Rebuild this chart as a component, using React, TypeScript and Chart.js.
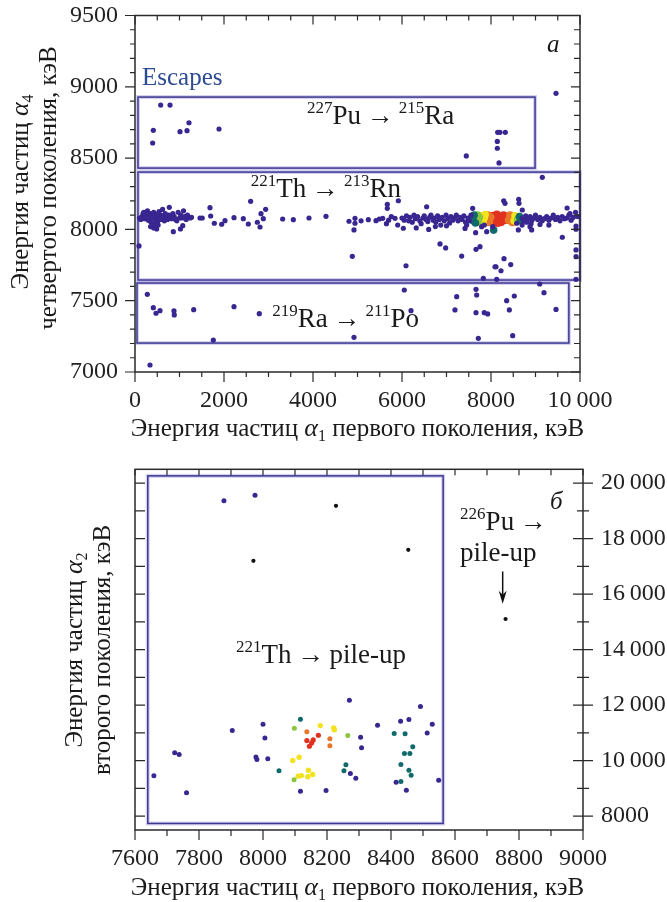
import React, { useEffect, useRef } from 'react';
import { Chart, registerables } from 'chart.js';
Chart.register(...registerables);

const FONT = '"Liberation Serif", "DejaVu Serif", serif';

// ---------- Panel a (top) ----------
const topXTicks = [0, 2000, 4000, 6000, 8000, 10000];
const topYTicks = [7000, 7500, 8000, 8500, 9000, 9500];

const topEscapes: [number, number][] = [
  [577, 8872], [787, 8872], [412, 8695], [397, 8606], [1011, 8685], [1169, 8692], [1213, 8748], [1888, 8704],
  [7445, 8515], [8150, 8681], [8202, 8681], [8322, 8681], [8142, 8617], [8142, 8569], [8180, 8466], [9461, 8954],
];

const topThLeft: [number, number][] = [
  [100, 8080], [130, 8070], [160, 8090], [180, 8110], [200, 8120], [220, 8075], [240, 8100], [260, 8085],
  [280, 8130], [300, 8065], [320, 8095], [340, 8110], [360, 8050], [380, 8080], [400, 8100], [420, 8120],
  [440, 8040], [460, 8070], [480, 8090], [500, 8105], [520, 8060], [540, 8125], [560, 8080], [580, 8100],
  [600, 8070], [620, 8140], [640, 8090], [660, 8060], [680, 8110], [700, 8080], [730, 8070], [760, 8100],
  [790, 8085], [820, 8075], [850, 8110], [880, 8090], [910, 8070], [940, 8060], [970, 8120], [1000, 8080],
  [1030, 8100], [1060, 8080], [1090, 8130], [1120, 8090], [1150, 8070], [1180, 8100], [1210, 8085],
  [1240, 8080], [1270, 8085], [350, 8020], [420, 8010], [520, 8030], [487, 8003],
];

const topThMid: [number, number][] = [
  [90, 7884], [861, 7984], [1021, 8003], [1073, 8026], [771, 8155], [1685, 8152], [1701, 8094], [1461, 8080],
  [1511, 8080], [1783, 8043], [1948, 8036], [2022, 8061], [2225, 8082], [2434, 8075], [2547, 8038], [2599, 8197],
  [2749, 8050], [2809, 8017], [2832, 8110], [2884, 8075], [2936, 8141], [3318, 8073], [3558, 8068], [3910, 8080],
  [4292, 8092], [4809, 8057], [4944, 8078], [4944, 8043], [4921, 7996], [4884, 7811], [5243, 8068], [5416, 8061],
  [5490, 8073], [5566, 8078], [5670, 8176], [5670, 8148], [5918, 8201], [5843, 8078], [5903, 8031], [6030, 8008],
  [6090, 7745], [6554, 8159], [6854, 7898], [6981, 7870], [7341, 7813], [7663, 7860], [7753, 7879], [7588, 8148],
  [7790, 8019], [8090, 7738], [7828, 7657], [8128, 7650], [8112, 7738], [8225, 7710], [8292, 7795], [8443, 7753],
  [8285, 8201], [8315, 8183], [8622, 8211], [8629, 8183], [8703, 8136], [9153, 8365], [9603, 7945], [9910, 8024],
  [9910, 8001], [9910, 7856], [9910, 7809], [9910, 7650], [9710, 8150], [9775, 8110], [8876, 8019], [8914, 7996],
  [8577, 8043], [8614, 7996], [8038, 8019], [7850, 8031], [7903, 7984], [7655, 7977], [7416, 8007], [7453, 8031],
  [5080, 8060], [5700, 8065], [5760, 8090], [5650, 8040],
];

const topThDense: [number, number][] = [
  [6000, 8080], [6050, 8065], [6100, 8095], [6150, 8060], [6180, 8085], [6230, 8050], [6270, 8100], [6300, 8075],
  [6350, 8090], [6400, 8060], [6430, 8040], [6470, 8080], [6500, 8095], [6540, 8070], [6580, 8055], [6620, 8085],
  [6650, 8100], [6700, 8065], [6730, 8080], [6760, 8050], [6800, 8095], [6840, 8070], [6870, 8030], [6900, 8085],
  [6950, 8060], [6990, 8100], [7030, 8075], [7070, 8045], [7100, 8090], [7140, 8065], [7180, 8080], [7220, 8100],
  [7260, 8060], [7300, 8085], [7350, 8070], [7390, 8095], [7430, 8050], [7480, 8080], [7520, 8060], [7550, 8100],
  [6320, 8010], [6600, 8000], [6750, 8020], [7000, 8025],
  [8700, 8080], [8740, 8060], [8780, 8095], [8720, 8070], [8760, 8085], [8800, 8050], [8840, 8075], [8880, 8090],
  [8920, 8065], [8960, 8080], [9000, 8100], [9050, 8070], [9100, 8085], [9150, 8060], [9200, 8075], [9250, 8090],
  [9300, 8065], [9350, 8080], [9400, 8100], [9450, 8070], [9500, 8085], [9550, 8060], [9600, 8090], [9650, 8075],
  [9700, 8080], [9750, 8100], [9800, 8065], [9850, 8085], [9900, 8120], [9950, 8090], [8700, 8030], [8900, 8040],
  [9100, 8035], [9300, 8030],
];

const topRa: [number, number][] = [
  [277, 7545], [412, 7451], [472, 7412], [562, 7430], [876, 7428], [883, 7400], [1319, 7437], [2225, 7458],
  [2793, 7409], [1760, 7224], [337, 7049], [4921, 7243], [6052, 7575], [6202, 7430], [7229, 7528], [7191, 7435],
  [7663, 7580], [7678, 7540], [7663, 7416], [7849, 7416], [7925, 7407], [7715, 7236], [8352, 7500], [8412, 7435],
  [8524, 7533], [8487, 7255], [9094, 7617], [9191, 7556], [9461, 7439],
];

const topHotTeal: [number, number][] = [
  [7580, 8080], [7600, 8060], [7620, 8100], [7650, 8045], [8640, 8090], [8660, 8060], [8060, 7995],
];
const topHotGreen: [number, number][] = [[7680, 8075], [7700, 8100], [7720, 8050], [7740, 8085], [8600, 8070]];
const topHotYellow: [number, number][] = [
  [7760, 8065], [7790, 8095], [7820, 8050], [7850, 8080], [7870, 8105], [8520, 8060], [8540, 8095], [8560, 8075],
];
const topHotOrange: [number, number][] = [
  [7900, 8070], [7930, 8100], [7960, 8050], [7990, 8085], [8400, 8065], [8430, 8100], [8460, 8080], [8480, 8050],
];
const topHotRed: [number, number][] = [
  [8000, 8070], [8040, 8095], [8070, 8055], [8100, 8085], [8130, 8105], [8160, 8065], [8190, 8090], [8220, 8050],
  [8250, 8080], [8280, 8100], [8310, 8065], [8340, 8090], [8370, 8075], [8060, 8080], [8200, 8075], [8150, 8045],
];

// boxes in data units (x0, x1, y0, y1)
const topBoxes = [
  { x0: 67, x1: 8990, y0: 8430, y1: 8928 },
  { x0: 67, x1: 10000, y0: 7645, y1: 8402 },
  { x0: 45, x1: 9750, y0: 7203, y1: 7624 },
];

// ---------- Panel б (bottom) ----------
const botXTicks = [7600, 7800, 8000, 8200, 8400, 8600, 8800, 9000];
const botYTicks = [8000, 10000, 12000, 14000, 16000, 18000, 20000];

const botPurple: [number, number][] = [
  [7878, 19363], [7975, 19568], [7904, 11083], [8000, 11311], [8006, 10820], [7724, 10280], [7738, 10220],
  [7978, 10130], [7981, 10040], [8015, 10065], [7659, 9453], [7761, 8841], [8117, 8898], [8197, 8924],
  [8270, 12174], [8305, 10843], [8308, 10460], [8358, 11275], [8273, 9535], [8290, 9367], [8492, 11947],
  [8430, 11418], [8456, 11479], [8529, 11310], [8513, 11000], [8416, 9222], [8448, 8935], [8549, 9295],
];
const botTeal: [number, number][] = [
  [8050, 9632], [8117, 11490], [8259, 9850], [8253, 9632], [8410, 10975], [8444, 10965], [8468, 10497],
  [8442, 10256], [8459, 10256], [8431, 9860], [8456, 9654], [8463, 9475], [8431, 9247],
];
const botGreen: [number, number][] = [[8098, 11166], [8097, 9309], [8265, 10904]];
const botYellow: [number, number][] = [
  [8179, 11263], [8221, 11181], [8223, 11110], [8093, 10003], [8113, 10122], [8110, 9440], [8120, 9460],
  [8142, 9654], [8140, 9417], [8155, 9500],
];
const botOrange: [number, number][] = [[8137, 11037], [8209, 10785], [8209, 10533]];
const botRed: [number, number][] = [[8173, 10914], [8137, 10724], [8157, 10748], [8152, 10640], [8145, 10518]];
const botBlack: [number, number][] = [[8228, 19183], [7970, 17203], [8454, 17599], [8758, 15104]];

const botBoxes = [{ x0: 7640, x1: 8563, y0: 7736, y1: 20263 }];

// ---------- helpers ----------
const C_PURPLE = '#3a2690';
const C_TEAL = '#0f6a6b';
const C_GREEN = '#8cc63f';
const C_YELLOW = '#f3e21f';
const C_ORANGE = '#e8772a';
const C_RED = '#e0321f';
const C_BLACK = '#111111';
const C_BOX = '#3b3791';

const range = (a: number, b: number, s: number) => {
  const r: number[] = [];
  for (let v = a; v <= b + 1e-9; v += s) r.push(v);
  return r;
};

const fmt = (v: number) =>
  v >= 10000 ? `${Math.floor(v / 1000)}\u2009${String(v % 1000).padStart(3, '0')}` : String(v);

type Seg = { t: string; size: number; italic?: boolean; dy?: number };

function drawRich(ctx: CanvasRenderingContext2D, segs: Seg[], x: number, y: number, align: 'left' | 'center', color: string) {
  const fonts = segs.map((s) => `${s.italic ? 'italic ' : ''}${s.size}px ${FONT}`);
  const widths = segs.map((s, i) => {
    ctx.font = fonts[i];
    return ctx.measureText(s.t).width;
  });
  const total = widths.reduce((a, b) => a + b, 0);
  let cx = align === 'center' ? x - total / 2 : x;
  ctx.fillStyle = color;
  ctx.textAlign = 'left';
  ctx.textBaseline = 'alphabetic';
  segs.forEach((s, i) => {
    ctx.font = fonts[i];
    ctx.fillText(s.t, cx, y + (s.dy || 0));
    cx += widths[i];
  });
}

const ARW = '\u2009\u2192\u2009';
const BIG = 27;
const SMALL = 17;
const nuc = (a: string, el: string, b: string, el2: string): Seg[] => [
  { t: a, size: SMALL, dy: -11 },
  { t: el, size: BIG },
  { t: ARW, size: BIG },
  { t: b, size: SMALL, dy: -11 },
  { t: el2, size: BIG },
];

type TickSpec = { side: 'top' | 'bottom' | 'left' | 'right'; values: number[]; len: number; mode: 'in' | 'out' | 'both' };
type TextSpec = { x: number; y: number; segs: Seg[]; color?: string };
type TitleSpec = { x: number; y: number; segs: Seg[]; rotate?: boolean };
type Box = { x0: number; x1: number; y0: number; y1: number };

function makeDecor(cfg: {
  boxes: Box[];
  ticks: TickSpec[];
  texts: TextSpec[];
  titles: TitleSpec[];
  arrow?: { x: number; y0: number; y1: number };
}) {
  return {
    id: 'decor',
    beforeDatasetsDraw(chart: any) {
      const { ctx, scales } = chart;
      const xs = scales.x, ys = scales.y;
      ctx.save();
      cfg.boxes.forEach((b) => {
        const x0 = xs.getPixelForValue(b.x0), x1 = xs.getPixelForValue(b.x1);
        const y0 = ys.getPixelForValue(b.y1), y1 = ys.getPixelForValue(b.y0);
        ctx.strokeStyle = 'rgba(150,140,215,0.4)';
        ctx.lineWidth = 4;
        ctx.strokeRect(x0, y0, x1 - x0, y1 - y0);
        ctx.strokeStyle = C_BOX;
        ctx.lineWidth = 1.5;
        ctx.strokeRect(x0, y0, x1 - x0, y1 - y0);
      });
      ctx.restore();
    },
    afterDraw(chart: any) {
      const { ctx, scales, chartArea: a } = chart;
      const xs = scales.x, ys = scales.y;
      ctx.save();
      ctx.strokeStyle = '#2a2a2a';
      ctx.lineWidth = 1.5;
      ctx.strokeRect(a.left, a.top, a.right - a.left, a.bottom - a.top);
      ctx.lineWidth = 1.2;
      ctx.beginPath();
      cfg.ticks.forEach((t) => {
        t.values.forEach((v) => {
          if (t.side === 'bottom' || t.side === 'top') {
            const px = xs.getPixelForValue(v);
            const base = t.side === 'bottom' ? a.bottom : a.top;
            const outDir = t.side === 'bottom' ? 1 : -1;
            const s = t.mode === 'out' ? 0 : -outDir * t.len;
            const e = t.mode === 'in' ? 0 : outDir * t.len;
            ctx.moveTo(px, base + s);
            ctx.lineTo(px, base + e);
          } else {
            const py = ys.getPixelForValue(v);
            const base = t.side === 'left' ? a.left : a.right;
            const outDir = t.side === 'left' ? -1 : 1;
            const s = t.mode === 'out' ? 0 : -outDir * t.len;
            const e = t.mode === 'in' ? 0 : outDir * t.len;
            ctx.moveTo(base + s, py);
            ctx.lineTo(base + e, py);
          }
        });
      });
      ctx.stroke();
      cfg.texts.forEach((t) => {
        drawRich(ctx, t.segs, xs.getPixelForValue(t.x), ys.getPixelForValue(t.y), 'left', t.color || '#1a1a1a');
      });
      cfg.titles.forEach((t) => {
        ctx.save();
        ctx.translate(t.x, t.y);
        if (t.rotate) ctx.rotate(-Math.PI / 2);
        drawRich(ctx, t.segs, 0, 0, 'center', '#1a1a1a');
        ctx.restore();
      });
      if (cfg.arrow) {
        const ax = xs.getPixelForValue(cfg.arrow.x);
        const ay0 = ys.getPixelForValue(cfg.arrow.y0);
        const ay1 = ys.getPixelForValue(cfg.arrow.y1);
        ctx.strokeStyle = '#111';
        ctx.fillStyle = '#111';
        ctx.lineWidth = 1.5;
        ctx.beginPath();
        ctx.moveTo(ax, ay0);
        ctx.lineTo(ax, ay1 - 8);
        ctx.stroke();
        ctx.beginPath();
        ctx.moveTo(ax, ay1);
        ctx.lineTo(ax - 4, ay1 - 13);
        ctx.lineTo(ax, ay1 - 9);
        ctx.lineTo(ax + 4, ay1 - 13);
        ctx.closePath();
        ctx.fill();
      }
      ctx.restore();
    },
  };
}

const ds = (pts: [number, number][], color: string, r: number) => ({
  data: pts.map(([x, y]) => ({ x, y })),
  backgroundColor: color,
  borderColor: color,
  borderWidth: 0,
  pointRadius: r,
  pointHoverRadius: r,
});

const tickFont = { family: FONT, size: 24 };
const TS = 25; // title font size

const xTitle = (n: string): Seg[] => [
  { t: 'Энергия частиц ', size: TS },
  { t: 'α', size: TS + 1, italic: true },
  { t: n, size: 16, dy: 5 },
  { t: ' первого поколения, кэВ', size: TS },
];

const noPad = (s: any) => {
  s.paddingTop = 0;
  s.paddingBottom = 0;
  s.paddingLeft = 0;
  s.paddingRight = 0;
};

const axisBase = {
  type: 'linear',
  grid: { display: false, drawTicks: false },
  border: { display: false },
};

function topConfig(): any {
  return {
    type: 'scatter',
    data: {
      datasets: [
        ds(topEscapes, C_PURPLE, 2.6),
        ds(topThLeft, C_PURPLE, 2.6),
        ds(topThMid, C_PURPLE, 2.6),
        ds(topThDense, C_PURPLE, 2.6),
        ds(topRa, C_PURPLE, 2.6),
        ds(topHotTeal, C_TEAL, 3.8),
        ds(topHotGreen, C_GREEN, 3.8),
        ds(topHotYellow, C_YELLOW, 3.8),
        ds(topHotOrange, C_ORANGE, 4),
        ds(topHotRed, C_RED, 4),
      ],
    },
    options: {
      responsive: false,
      animation: false,
      events: [],
      layout: { autoPadding: false, padding: { left: 0, right: 87, top: 15.5, bottom: 0 } },
      plugins: { legend: { display: false }, tooltip: { enabled: false } },
      scales: {
        x: {
          ...axisBase,
          position: 'bottom',
          min: 0,
          max: 10000,
          ticks: { font: tickFont, color: '#222', padding: 14, maxRotation: 0, autoSkip: false, callback: (v: number) => fmt(v) },
          afterBuildTicks: (s: any) => { s.ticks = topXTicks.map((v) => ({ value: v })); },
          afterFit: (s: any) => { s.height = 78; noPad(s); },
        },
        y: {
          ...axisBase,
          position: 'left',
          min: 7000,
          max: 9500,
          ticks: { font: tickFont, color: '#222', padding: 17, callback: (v: number) => fmt(v) },
          afterBuildTicks: (s: any) => { s.ticks = topYTicks.map((v) => ({ value: v })); },
          afterFit: (s: any) => { s.width = 135; noPad(s); },
        },
      },
    },
    plugins: [
      makeDecor({
        boxes: topBoxes,
        ticks: [
          { side: 'bottom', values: range(0, 10000, 500), len: 5, mode: 'out' },
          { side: 'bottom', values: topXTicks, len: 10, mode: 'out' },
          { side: 'top', values: range(0, 10000, 500), len: 5, mode: 'in' },
          { side: 'top', values: topXTicks, len: 9, mode: 'in' },
          { side: 'left', values: range(7000, 9500, 100), len: 5, mode: 'out' },
          { side: 'left', values: topYTicks, len: 10, mode: 'out' },
          { side: 'right', values: range(7000, 9500, 100), len: 6, mode: 'in' },
          { side: 'right', values: topYTicks, len: 9, mode: 'in' },
        ],
        texts: [
          { x: 157, y: 9013, segs: [{ t: 'Escapes', size: 25 }], color: '#2c4b92' },
          { x: 3865, y: 8739, segs: nuc('227', 'Pu', '215', 'Ra') },
          { x: 2600, y: 8225, segs: nuc('221', 'Th', '213', 'Rn') },
          { x: 3085, y: 7318, segs: nuc('219', 'Ra', '211', 'Po') },
          { x: 9258, y: 9244, segs: [{ t: 'a', size: 25, italic: true }] },
        ],
        titles: [
          { x: 357.5, y: 436, segs: xTitle('1') },
          { x: 28, y: 192, rotate: true, segs: [{ t: 'Энергия частиц ', size: TS }, { t: 'α', size: TS + 1, italic: true }, { t: '4', size: 16, dy: 5 }] },
          { x: 56, y: 188, rotate: true, segs: [{ t: 'четвертого поколения, кэВ', size: TS }] },
        ],
      }),
    ],
  };
}

function botConfig(): any {
  return {
    type: 'scatter',
    data: {
      datasets: [
        ds(botPurple, C_PURPLE, 2.5),
        ds(botTeal, C_TEAL, 2.5),
        ds(botGreen, C_GREEN, 2.5),
        ds(botYellow, C_YELLOW, 2.7),
        ds(botOrange, C_ORANGE, 2.5),
        ds(botRed, C_RED, 2.6),
        ds(botBlack, C_BLACK, 2.1),
      ],
    },
    options: {
      responsive: false,
      animation: false,
      events: [],
      layout: { autoPadding: false, padding: { left: 135, right: 0, top: 19.3, bottom: 0 } },
      plugins: { legend: { display: false }, tooltip: { enabled: false } },
      scales: {
        x: {
          ...axisBase,
          position: 'bottom',
          min: 7600,
          max: 9000,
          ticks: { font: tickFont, color: '#222', padding: 14, maxRotation: 0, autoSkip: false, callback: (v: number) => fmt(v) },
          afterBuildTicks: (s: any) => { s.ticks = botXTicks.map((v) => ({ value: v })); },
          afterFit: (s: any) => { s.height = 72; noPad(s); },
        },
        y: {
          ...axisBase,
          position: 'right',
          min: 7500,
          max: 20500,
          ticks: { font: tickFont, color: '#222', padding: 18, callback: (v: number) => fmt(v) },
          afterBuildTicks: (s: any) => { s.ticks = botYTicks.map((v) => ({ value: v })); },
          afterFit: (s: any) => { s.width = 84; noPad(s); },
        },
      },
    },
    plugins: [
      makeDecor({
        boxes: botBoxes,
        ticks: [
          { side: 'bottom', values: range(7600, 9000, 100), len: 6, mode: 'out' },
          { side: 'bottom', values: botXTicks, len: 10, mode: 'out' },
          { side: 'top', values: range(7600, 9000, 100), len: 6, mode: 'in' },
          { side: 'left', values: range(8000, 20000, 1000), len: 10, mode: 'in' },
          { side: 'right', values: range(8000, 20000, 1000), len: 6, mode: 'both' },
          { side: 'right', values: botYTicks, len: 10, mode: 'both' },
        ],
        texts: [
          { x: 7916, y: 13520, segs: [{ t: '221', size: SMALL, dy: -11 }, { t: 'Th' + ARW + 'pile-up', size: BIG }] },
          { x: 8616, y: 18319, segs: [{ t: '226', size: SMALL, dy: -11 }, { t: 'Pu' + ARW, size: BIG }] },
          { x: 8616, y: 17178, segs: [{ t: 'pile-up', size: BIG }] },
          { x: 8897, y: 19064, segs: [{ t: 'б', size: 25, italic: true }] },
        ],
        titles: [
          { x: 357.5, y: 445, segs: xTitle('1') },
          { x: 82, y: 200, rotate: true, segs: [{ t: 'Энергия частиц ', size: TS }, { t: 'α', size: TS + 1, italic: true }, { t: '2', size: 16, dy: 5 }] },
          { x: 110, y: 200, rotate: true, segs: [{ t: 'второго поколения, кэВ', size: TS }] },
        ],
        arrow: { x: 8749, y0: 16818, y1: 15655 },
      }),
    ],
  };
}

export default function App() {
  const topRef = useRef<HTMLCanvasElement>(null);
  const botRef = useRef<HTMLCanvasElement>(null);
  useEffect(() => {
    const c1 = new Chart(topRef.current as HTMLCanvasElement, topConfig());
    const c2 = new Chart(botRef.current as HTMLCanvasElement, botConfig());
    return () => {
      c1.destroy();
      c2.destroy();
    };
  }, []);
  return (
    <div style={{ position: 'fixed', left: 0, top: 0, width: 667, height: 902, background: '#fff' }}>
      <canvas ref={topRef} width={667} height={450} style={{ position: 'absolute', left: 0, top: 0, width: 667, height: 450 }} />
      <canvas ref={botRef} width={667} height={452} style={{ position: 'absolute', left: 0, top: 450, width: 667, height: 452 }} />
    </div>
  );
}
